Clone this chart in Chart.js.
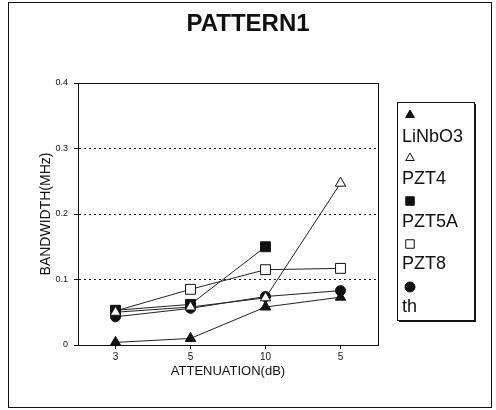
<!DOCTYPE html>
<html>
<head>
<meta charset="utf-8">
<script src="https://cdn.jsdelivr.net/npm/chart.js@4/dist/chart.umd.min.js"></script>
<style>
html,body{margin:0;padding:0;background:#fff;}
#wrap{position:relative;width:496px;height:410px;}
</style>
</head>
<body>
<div id="wrap"><canvas id="c" width="496" height="410"></canvas></div>
<script>
// ---- data ----
const categories = ['3', '5', '10', '5'];
const seriesNames = ['LiNbO3', 'PZT4', 'PZT5A', 'PZT8', 'th'];
const liNbO3 = [0.004, 0.010, 0.058, 0.073];
const pzt4   = [0.050, 0.058, 0.072, 0.247];
const pzt5a  = [0.053, 0.062, 0.150, null];
const pzt8   = [0.052, 0.085, 0.115, 0.117];
const th     = [0.043, 0.056, 0.074, 0.083];
const yTicks = [0, 0.1, 0.2, 0.3, 0.4];

const FONT = "'Liberation Sans', Arial, sans-serif";
const INK = '#111';

const markerStyles = [
  {pointStyle: 'triangle', fill: INK, radius: 6},
  {pointStyle: 'triangle', fill: '#fff', radius: 6},
  {pointStyle: 'rect', fill: INK, radius: 7},
  {pointStyle: 'rect', fill: '#fff', radius: 7},
  {pointStyle: 'circle', fill: INK, radius: 5}
];
const seriesValues = [liNbO3, pzt4, pzt5a, pzt8, th];

const datasets = seriesNames.map((name, i) => ({
  label: name,
  data: seriesValues[i],
  borderColor: '#222',
  borderWidth: 1,
  pointStyle: markerStyles[i].pointStyle,
  pointRadius: markerStyles[i].radius,
  pointBackgroundColor: markerStyles[i].fill,
  pointBorderColor: INK,
  pointBorderWidth: 1,
  tension: 0,
  spanGaps: false
}));

const framePlugin = {
  id: 'frame',
  afterDraw(chart) {
    const ctx = chart.ctx;
    ctx.save();
    // outer border
    ctx.strokeStyle = INK;
    ctx.lineWidth = 1;
    ctx.strokeRect(8.5, 2.5, 483, 405);
    // legend box
    const lx = 397, ly = 102, lw = 77, lh = 218;
    ctx.fillStyle = '#fff';
    ctx.fillRect(lx, ly, lw, lh);
    ctx.strokeRect(lx + 0.5, ly + 0.5, lw, lh);
    ctx.fillStyle = INK;
    ctx.fillRect(lx + lw, ly + 2, 2, lh);
    ctx.fillRect(lx + 2, ly + lh, lw, 2);
    // legend entries: marker line then label line
    chart.data.datasets.forEach((ds, i) => {
      const my = 115 + 43 * i;
      const ty = 137 + 42.5 * i;
      ctx.save();
      ctx.fillStyle = ds.pointBackgroundColor;
      ctx.strokeStyle = INK;
      ctx.lineWidth = 1;
      Chart.helpers.drawPoint(ctx, {
        pointStyle: ds.pointStyle,
        radius: ds.pointStyle === 'rect' ? 6 : 5,
        borderWidth: 1,
        rotation: 0
      }, 410, my);
      ctx.restore();
      ctx.fillStyle = INK;
      ctx.font = '18px ' + FONT;
      ctx.textBaseline = 'middle';
      ctx.textAlign = 'left';
      ctx.fillText(ds.label, 402, ty);
    });
    ctx.restore();
  },
  beforeDraw(chart) {
    const ctx = chart.ctx;
    ctx.save();
    ctx.fillStyle = '#fff';
    ctx.fillRect(0, 0, chart.width, chart.height);
    ctx.restore();
  }
};

new Chart(document.getElementById('c'), {
  type: 'line',
  data: { labels: categories, datasets: datasets },
  plugins: [framePlugin],
  options: {
    responsive: false,
    animation: false,
    devicePixelRatio: 1,
    layout: { padding: 0 },
    plugins: {
      legend: { display: false },
      tooltip: { enabled: false },
      title: {
        display: true,
        text: 'PATTERN1',
        color: INK,
        font: { family: FONT, size: 24, weight: 'bold' },
        padding: { top: 9.6, bottom: 44.6 }
      }
    },
    scales: {
      x: {
        type: 'category',
        offset: true,
        grid: { drawOnChartArea: false, offset: false, tickLength: 4, tickColor: INK, color: INK },
        border: { display: true, color: INK, width: 1 },
        ticks: { color: INK, font: { family: FONT, size: 10 }, padding: 2, maxRotation: 0, autoSkip: false },
        title: {
          display: true,
          text: 'ATTENUATION(dB)',
          color: INK,
          font: { family: FONT, size: 13 },
          padding: { top: 0, bottom: 31 }
        },
        afterFit(scale) { scale.height = 65; }
      },
      y: {
        min: 0,
        max: 0.4,
        afterBuildTicks(scale) { scale.ticks = yTicks.map(v => ({ value: v })); },
        grid: {
          color: INK,
          lineWidth: 1,
          tickLength: 4,
          tickColor: INK
        },
        border: {
          display: true,
          color: INK,
          width: 1,
          dash: (c) => (c.tick && c.tick.value > 0 && c.tick.value < 0.4) ? [2, 3] : []
        },
        ticks: {
          color: INK,
          font: { family: FONT, size: 9 },
          padding: 6,
          callback: (v) => v === 0 ? '0' : Number(v).toFixed(1)
        },
        title: {
          display: true,
          text: 'BANDWIDTH(MHz)',
          color: INK,
          font: { family: FONT, size: 14 },
          padding: { top: 38, bottom: 0 }
        },
        afterFit(scale) { scale.width = 78; }
      },
      yRight: {
        position: 'right',
        min: 0,
        max: 0.4,
        grid: { drawOnChartArea: false, drawTicks: false },
        border: { display: true, color: INK, width: 1 },
        ticks: { display: false },
        afterFit(scale) { scale.width = 118; }
      }
    }
  }
});
</script>
</body>
</html>
